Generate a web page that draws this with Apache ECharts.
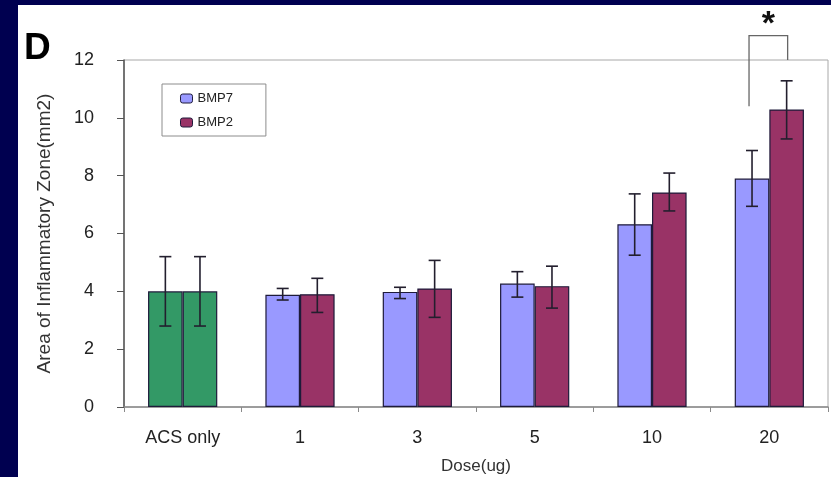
<!DOCTYPE html>
<html>
<head>
<meta charset="utf-8">
<script src="https://cdn.jsdelivr.net/npm/echarts@6/dist/echarts.min.js"></script>
<style>
html,body{margin:0;padding:0;background:#000050;width:831px;height:477px;overflow:hidden;}
#panel{position:absolute;left:18px;top:5px;width:813px;height:472px;background:#ffffff;}
#chart{position:absolute;left:0;top:0;width:831px;height:477px;}
</style>
</head>
<body>
<div id="panel"></div>
<div id="chart"></div>
<script>
// ---- data ----
const categories = ['ACS only', '1', '3', '5', '10', '20'];
const seriesNames = ['BMP7', 'BMP2'];
const bmp7 = [4.0, 3.88, 3.98, 4.27, 6.32, 7.9];
const bmp7Low = [2.8, 3.7, 3.75, 3.8, 5.25, 6.94];
const bmp7High = [5.2, 4.1, 4.14, 4.68, 7.37, 8.87];
const bmp2 = [4.0, 3.9, 4.1, 4.18, 7.42, 10.29];
const bmp2Low = [2.8, 3.27, 3.1, 3.42, 6.78, 9.27];
const bmp2High = [5.2, 4.45, 5.07, 4.87, 8.09, 11.28];
const yTicks = [0, 2, 4, 6, 8, 10, 12];
const bracketCategory = 5;
const bracketLow = [10.4, 12.0];   // left leg bottom, right leg bottom
const bracketTop = 12.84;
const panelLabel = 'D';
const sigMark = '*';

// ---- style ----
const colBMP7 = '#9999FF', colBMP2 = '#993366', colACS = '#339966';
const edge = '#1e1b3a';
const barRatio = 0.295;
const font = '"Liberation Sans", Arial, sans-serif';

function barData(vals, col) {
  return vals.map((v, i) => i === 0 ? { value: v, itemStyle: { color: colACS } } : { value: v, itemStyle: { color: col } });
}
function errData(vals, lo, hi) {
  return vals.map((v, i) => [i, lo[i], hi[i], v]);
}
function errRender(sign) {
  return function (params, api) {
    const idx = api.value(0);
    const bw = api.size([1, 0])[0] * barRatio;
    const off = sign * bw / 2;
    const lo = api.coord([idx, api.value(1)]);
    const hi = api.coord([idx, api.value(2)]);
    const x = lo[0] + off;
    const cap = 6;
    const st = { stroke: '#231f2e', lineWidth: 1.6 };
    return {
      type: 'group',
      children: [
        { type: 'line', shape: { x1: x, y1: lo[1], x2: x, y2: hi[1] }, style: st },
        { type: 'line', shape: { x1: x - cap, y1: lo[1], x2: x + cap, y2: lo[1] }, style: st },
        { type: 'line', shape: { x1: x - cap, y1: hi[1], x2: x + cap, y2: hi[1] }, style: st }
      ]
    };
  };
}

const chart = echarts.init(document.getElementById('chart'), null, { renderer: 'canvas' });
const option = {
  backgroundColor: 'transparent',
  animation: false,
  grid: { left: 124, right: 3, top: 60, bottom: 70, containLabel: false, outerBoundsMode: 'none',
          show: true, borderColor: '#a8a8a8', borderWidth: 1, backgroundColor: 'transparent' },
  legend: {
    left: 162, top: 84,
    orient: 'vertical',
    padding: [8, 33, 7, 18],
    itemGap: 11,
    itemWidth: 12, itemHeight: 9,
    borderColor: '#8c8c8c', borderWidth: 1,
    backgroundColor: '#ffffff',
    data: seriesNames.map((n, i) => ({ name: n, itemStyle: { color: i === 0 ? colBMP7 : colBMP2, borderColor: edge, borderWidth: 1 } })),
    textStyle: { fontFamily: font, fontSize: 13, color: '#222' }
  },
  xAxis: {
    type: 'category',
    data: categories,
    name: 'Dose(ug)',
    nameLocation: 'middle',
    nameGap: 51,
    nameTextStyle: { fontFamily: font, fontSize: 17, color: '#333' },
    axisLine: { lineStyle: { color: '#8a8a8a', width: 1.5 } },
    axisTick: { show: true, alignWithLabel: false, length: 5, lineStyle: { color: '#8a8a8a' } },
    axisLabel: { fontFamily: font, fontSize: 18, color: '#222', margin: 22 }
  },
  yAxis: {
    type: 'value',
    min: yTicks[0], max: yTicks[yTicks.length - 1], interval: 2,
    name: 'Area of Inflammatory Zone(mm2)',
    nameLocation: 'middle',
    nameGap: 70,
    nameTextStyle: { fontFamily: font, fontSize: 19, color: '#333' },
    axisLine: { show: true, lineStyle: { color: '#555', width: 1.5 } },
    axisTick: { show: true, length: 7, lineStyle: { color: '#555' } },
    splitLine: { show: false },
    axisLabel: { fontFamily: font, fontSize: 18, color: '#222', margin: 30 }
  },
  series: [
    { name: seriesNames[0], type: 'bar', data: barData(bmp7, colBMP7), barWidth: (barRatio * 100) + '%', barGap: '0%',
      itemStyle: { color: colBMP7, borderColor: edge, borderWidth: 1.2 } },
    { name: seriesNames[1], type: 'bar', data: barData(bmp2, colBMP2), barWidth: (barRatio * 100) + '%', barGap: '0%',
      itemStyle: { color: colBMP2, borderColor: edge, borderWidth: 1.2 } },
    { type: 'custom', renderItem: errRender(-1), data: errData(bmp7, bmp7Low, bmp7High), z: 5, silent: true },
    { type: 'custom', renderItem: errRender(1), data: errData(bmp2, bmp2Low, bmp2High), z: 5, silent: true }
  ]
};
chart.setOption(option);

// significance bracket + panel label, positioned through the chart's scales
const c0 = chart.convertToPixel({ gridIndex: 0 }, [bracketCategory, bracketLow[0]]);
const c1 = chart.convertToPixel({ gridIndex: 0 }, [bracketCategory, bracketLow[1]]);
const cTop = chart.convertToPixel({ gridIndex: 0 }, [bracketCategory, bracketTop]);
const catW = chart.convertToPixel({ gridIndex: 0 }, [1, 0])[0] - chart.convertToPixel({ gridIndex: 0 }, [0, 0])[0];
const half = catW * barRatio / 2;
const xl = c0[0] - half - 3, xr = c0[0] + half + 1;
const lineSt = { stroke: '#666', lineWidth: 1.3, fill: null };
chart.setOption({
  graphic: [
    { type: 'polyline', shape: { points: [[xl, c0[1]], [xl, cTop[1]], [xr, cTop[1]], [xr, c1[1]]] }, style: lineSt, z: 10 },
    { type: 'text', x: (xl + xr) / 2, y: cTop[1] - 28, style: { text: sigMark, font: 'bold 34px ' + font, fill: '#111', textAlign: 'center', textVerticalAlign: 'top' }, z: 10 },
    { type: 'text', x: 24, y: 30, style: { text: panelLabel, font: 'bold 37px ' + font, fill: '#000', textAlign: 'left', textVerticalAlign: 'top' }, z: 10 }
  ]
});
</script>
</body>
</html>
